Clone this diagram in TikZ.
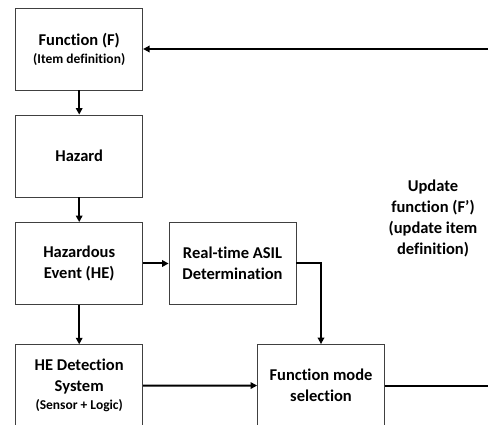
\documentclass[tikz,border=0pt]{standalone}
\usepackage{fontspec}
\setmainfont{Carlito}[Ligatures=NoCommon]
\usetikzlibrary{arrows.meta}
\begin{document}
\begin{tikzpicture}[x=1pt,y=-1pt,
  blk/.style={draw=black!75,line width=0.8pt,minimum width=127pt,minimum height=82pt,inner sep=0pt,align=center,font=\fontsize{16.5}{21}\selectfont\bfseries},
  con/.style={line width=2pt,-{Triangle[length=6.5pt,width=6.5pt]}}]
\useasboundingbox (0,0) rectangle (488,425);
\clip (0,0) rectangle (488,425);
\node[blk] (F) at (79.2,49) {Function (F)\\[-3pt]{\fontsize{13.5}{16}\selectfont (Item definition)}};
\node[blk] (H) at (79.2,156) {Hazard};
\node[blk] (HE) at (79.2,263.5) {Hazardous\\Event (HE)};
\node[blk] (A) at (232.5,263.5) {Real-time ASIL\\Determination};
\node[blk] (D) at (79.2,385.7) {HE Detection\\System\\[-3pt]{\fontsize{13.5}{16}\selectfont (Sensor + Logic)}};
\node[blk] (M) at (321,385.5) {Function mode\\selection};
\node[align=center,font=\fontsize{16.5}{21}\selectfont\bfseries] (U) at (433,218) {Update\\function (F')\\(update item\\definition)};
\coordinate (R1) at (490,385.5);
\coordinate (R2) at (490,49);
\draw[con] (F) -- (H);
\draw[con] (H) -- (HE);
\draw[con] (HE) -- (A);
\draw[con] (HE) -- (D);
\draw[con] (A.east) -| (M.north);
\draw[con] (D) -- (M);
\draw[line width=2pt] (M) -- (R1);
\draw[con] (R2) -- (F);
\end{tikzpicture}
\end{document}
